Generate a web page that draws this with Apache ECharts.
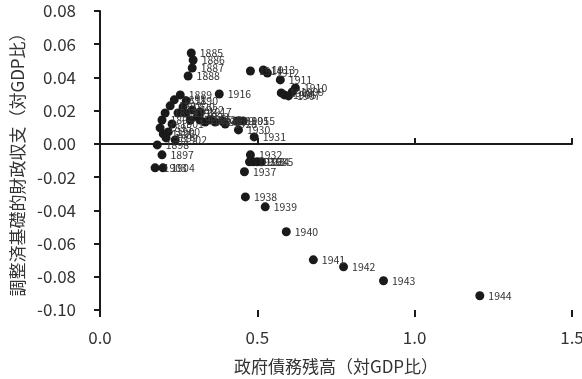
<!DOCTYPE html>
<html>
<head>
<meta charset="utf-8">
<script src="https://cdn.jsdelivr.net/npm/echarts@6/dist/echarts.min.js"></script>
<style>html,body{margin:0;padding:0;background:#fff}#c{width:582px;height:379px}</style>
</head>
<body>
<div id="c"></div>
<script>
var years = [1885,1886,1887,1888,1889,1890,1891,1892,1893,1894,1895,1896,1897,1898,1899,1900,1901,1902,1903,1904,1905,1906,1907,1908,1909,1910,1911,1912,1913,1914,1915,1916,1917,1918,1919,1920,1921,1922,1923,1924,1925,1926,1927,1928,1929,1930,1931,1932,1933,1934,1935,1936,1937,1938,1939,1940,1941,1942,1943,1944];
var debtRatio = [0.290,0.296,0.293,0.280,0.255,0.274,0.236,0.223,0.207,0.197,0.191,0.201,0.197,0.182,0.210,0.217,0.229,0.239,0.175,0.200,0.436,0.586,0.599,0.576,0.611,0.621,0.573,0.532,0.519,0.478,0.455,0.379,0.318,0.271,0.248,0.264,0.287,0.293,0.309,0.334,0.318,0.350,0.366,0.398,0.389,0.440,0.490,0.478,0.487,0.500,0.513,0.475,0.459,0.462,0.525,0.592,0.678,0.774,0.901,1.207];
var balance = [0.0547,0.0505,0.0457,0.0409,0.0295,0.0259,0.0265,0.0229,0.0186,0.0144,0.0096,0.0060,-0.0066,-0.0006,0.0036,0.0072,0.0120,0.0024,-0.0144,-0.0144,0.0138,0.0295,0.0289,0.0307,0.0313,0.0337,0.0385,0.0427,0.0445,0.0439,0.0138,0.0300,0.0192,0.0186,0.0186,0.0222,0.0144,0.0204,0.0162,0.0132,0.0144,0.0144,0.0132,0.0120,0.0138,0.0084,0.0042,-0.0066,-0.0108,-0.0108,-0.0108,-0.0108,-0.0168,-0.0319,-0.0379,-0.0529,-0.0698,-0.0740,-0.0824,-0.0914];
var xTicks = [0, 0.5, 1.0, 1.5];
var yTicks = [-0.10,-0.08,-0.06,-0.04,-0.02,0.00,0.02,0.04,0.06,0.08];

var FONT = '"Noto Sans CJK JP", "Noto Sans", sans-serif';
var AX = '#1a1a1a';
var pts = years.map(function(y,i){ return [debtRatio[i], balance[i], y]; });

var chart = echarts.init(document.getElementById('c'), null, {renderer:'canvas'});
var xBase = {type:'value', min:xTicks[0], max:xTicks[xTicks.length-1], interval:0.5, splitLine:{show:false}};
chart.setOption({
  animation:false,
  backgroundColor:'#fff',
  textStyle:{fontFamily:FONT},
  grid:{left:100, right:10, top:11, bottom:69, containLabel:false, outerBoundsMode:'none'},
  xAxis:[
    Object.assign({}, xBase, {
      position:'bottom',
      axisLine:{show:false, onZero:false},
      axisTick:{show:false},
      axisLabel:{margin:19, fontSize:17, color:'#333', fontFamily:FONT, formatter:function(v){return v.toFixed(1);}},
      name:'政府債務残高（対GDP比）', nameLocation:'middle', nameGap:48,
      nameTextStyle:{fontSize:17, color:'#333', fontFamily:FONT}
    }),
    Object.assign({}, xBase, {
      position:'bottom',
      axisLine:{show:true, onZero:true, lineStyle:{color:AX, width:2}},
      axisTick:{show:true, inside:true, length:6, lineStyle:{color:AX, width:2}},
      axisLabel:{show:false}
    }),
    Object.assign({}, xBase, {
      position:'bottom',
      axisLine:{show:false, onZero:true},
      axisTick:{show:true, inside:false, length:7, lineStyle:{color:AX, width:2}},
      axisLabel:{show:false}
    })
  ],
  yAxis:{
    type:'value', min:yTicks[0], max:yTicks[yTicks.length-1], interval:0.02,
    axisLine:{show:true, onZero:false, lineStyle:{color:AX, width:2}},
    axisTick:{show:true, length:6, lineStyle:{color:AX, width:2}},
    splitLine:{show:false},
    axisLabel:{margin:24, fontSize:17, color:'#333', fontFamily:FONT, formatter:function(v){return v.toFixed(2);}},
    name:'調整済基礎的財政収支（対GDP比）', nameLocation:'middle', nameGap:74,
    nameTextStyle:{fontSize:17, color:'#333', fontFamily:FONT}
  },
  series:[{
    type:'scatter', xAxisIndex:0,
    data:pts,
    symbolSize:9,
    itemStyle:{color:'#1a1a1a', opacity:1},
    label:{show:true, position:'right', distance:4, fontSize:10.5, color:'#333', fontFamily:FONT,
      formatter:function(p){return String(p.data[2]);}},
    labelLayout:{hideOverlap:false}
  }]
});
</script>
</body>
</html>
